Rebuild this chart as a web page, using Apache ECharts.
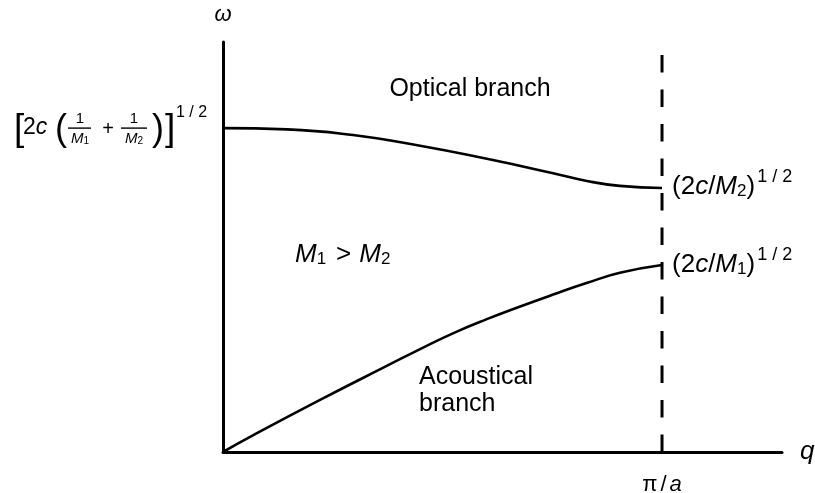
<!DOCTYPE html>
<html>
<head>
<meta charset="utf-8">
<script src="https://cdn.jsdelivr.net/npm/echarts@6/dist/echarts.min.js"></script>
<style>
html, body { margin: 0; padding: 0; background: #fff; }
#main { width: 815px; height: 493px; }
</style>
</head>
<body>
<div id="main"></div>
<script>
// q in units of pi/a, omega in units of the axis height
const qOptical = [0, 0.146, 0.296, 0.449, 0.601, 0.752, 0.829, 0.904, 1.0];
const omegaOptical = [0.790, 0.787, 0.773, 0.747, 0.715, 0.680, 0.661, 0.649, 0.644];
const qAcoustic = [0, 0.069, 0.221, 0.373, 0.449, 0.525, 0.601, 0.677, 0.752, 0.828, 0.904, 1.0];
const omegaAcoustic = [0, 0.041, 0.127, 0.210, 0.251, 0.290, 0.324, 0.355, 0.384, 0.412, 0.437, 0.456];
const qZoneEdge = 1;
const qMax = 1.2733;
const omegaMax = 1;

const FAM = 'Liberation Sans';
const pairs = (xs, ys) => xs.map((x, i) => [x, ys[i]]);

let myChart = echarts.init(document.getElementById('main'));

const option = {
  animation: false,
  backgroundColor: '#fff',
  grid: { left: 223, right: 33, top: 42, bottom: 41, outerBoundsMode: 'none' },
  xAxis: {
    type: 'value',
    min: 0,
    max: qMax,
    interval: 1,
    name: 'q',
    nameLocation: 'end',
    nameGap: 18,
    nameTextStyle: { fontFamily: FAM, fontStyle: 'italic', fontSize: 26, color: '#000' },
    axisLine: { lineStyle: { color: '#000', width: 3 } },
    axisTick: { show: false },
    splitLine: { show: false },
    axisLabel: {
      showMaxLabel: false,
      margin: 22,
      formatter: function (v) { return v === qZoneEdge ? '{r|π}{s|/}{i|a}' : ''; },
      rich: {
        r: { fontFamily: FAM, fontSize: 22, color: '#000' },
        s: { fontFamily: FAM, fontSize: 22, color: '#000', padding: [0, 3, 0, 3] },
        i: { fontFamily: FAM, fontSize: 22, fontStyle: 'italic', color: '#000' }
      }
    }
  },
  yAxis: {
    type: 'value',
    min: 0,
    max: omegaMax,
    name: 'ω',
    nameLocation: 'end',
    nameGap: 16,
    nameTextStyle: { fontFamily: FAM, fontStyle: 'italic', fontSize: 22, color: '#000' },
    axisLine: { show: true, lineStyle: { color: '#000', width: 3 } },
    axisTick: { show: false },
    axisLabel: { show: false },
    splitLine: { show: false }
  },
  series: [
    {
      name: 'Optical',
      type: 'line',
      data: pairs(qOptical, omegaOptical),
      smooth: 0.5,
      symbol: 'none',
      lineStyle: { color: '#000', width: 2.6 }
    },
    {
      name: 'Acoustical',
      type: 'line',
      data: pairs(qAcoustic, omegaAcoustic),
      smooth: 0.5,
      symbol: 'none',
      lineStyle: { color: '#000', width: 2.6 }
    },
    {
      name: 'zone edge',
      type: 'line',
      data: [[qZoneEdge, 0], [qZoneEdge, omegaMax]],
      symbol: 'none',
      lineStyle: { color: '#000', width: 3, type: [17.5, 17] }
    }
  ]
};
myChart.setOption(option);

// text helpers
function txt(x, y, text, size, extra) {
  return {
    type: 'text', x: x, y: y, silent: true,
    style: Object.assign({
      text: text, fontSize: size, fontFamily: FAM, fill: '#000',
      align: 'left', verticalAlign: 'middle'
    }, extra || {})
  };
}
function bar(x1, x2, y) {
  return { type: 'line', silent: true, shape: { x1: x1, y1: y, x2: x2, y2: y }, style: { stroke: '#000', lineWidth: 1.4 } };
}
const mathRich = (size) => ({
  r: { fontFamily: FAM, fontSize: size, fill: '#000' },
  i: { fontFamily: FAM, fontSize: size, fontStyle: 'italic', fill: '#000' },
  s: { fontFamily: FAM, fontSize: Math.round(size * 0.66), fill: '#000', padding: [Math.round(size * 0.3), 0, 0, 0] },
  p: { fontFamily: FAM, fontSize: Math.round(size * 0.7), fill: '#000', padding: [0, 0, Math.round(size * 0.78), 2] },
  g: { fontFamily: FAM, fontSize: size, fill: '#000', padding: [0, 8, 0, 10] }
});

const A = myChart.convertToPixel({ gridIndex: 0 }, [0, omegaOptical[0]]);
const E2 = myChart.convertToPixel({ gridIndex: 0 }, [qZoneEdge, omegaOptical[omegaOptical.length - 1]]);
const E1 = myChart.convertToPixel({ gridIndex: 0 }, [qZoneEdge, omegaAcoustic[omegaAcoustic.length - 1]]);
const ax = A[0], ay = A[1];

const graphics = [
  // [2c (1/M1 + 1/M2)]^(1/2)
  txt(ax - 209, ay + 2, '[', 37),
  txt(ax - 200, ay, '{r|2}{i|c}', 23, { rich: mathRich(23) }),
  txt(ax - 168, ay + 2, '(', 36),
  txt(ax - 143, ay - 9, '1', 15, { align: 'center' }),
  bar(ax - 155, ax - 132, ay),
  txt(ax - 143, ay + 11, '{i|M}{s|1}', 15, { align: 'center', rich: mathRich(15) }),
  txt(ax - 115, ay + 1, '+', 20, { align: 'center' }),
  txt(ax - 89, ay - 9, '1', 15, { align: 'center' }),
  bar(ax - 102, ax - 76, ay),
  txt(ax - 89, ay + 11, '{i|M}{s|2}', 15, { align: 'center', rich: mathRich(15) }),
  txt(ax - 71, ay + 2, ')', 36),
  txt(ax - 58, ay + 2, ']', 37),
  txt(ax - 47, ay - 16, '1 / 2', 16),
  // values at the zone edge
  txt(E2[0] + 10, E2[1] - 1, '{r|(2}{i|c}{r|/}{i|M}{s|2}{r|)}{p|1 / 2}', 26, { rich: mathRich(26) }),
  txt(E1[0] + 10, E1[1], '{r|(2}{i|c}{r|/}{i|M}{s|1}{r|)}{p|1 / 2}', 26, { rich: mathRich(26) }),
  // branch labels
  txt(470, 89, 'Optical branch', 25, { align: 'center' }),
  txt(295, 255, '{i|M}{s|1}{g|>}{i|M}{s|2}', 26, { rich: mathRich(26) }),
  txt(419, 391, 'Acoustical\nbranch', 25, { lineHeight: 27 })
];
myChart.setOption({ graphic: graphics });
</script>
</body>
</html>
